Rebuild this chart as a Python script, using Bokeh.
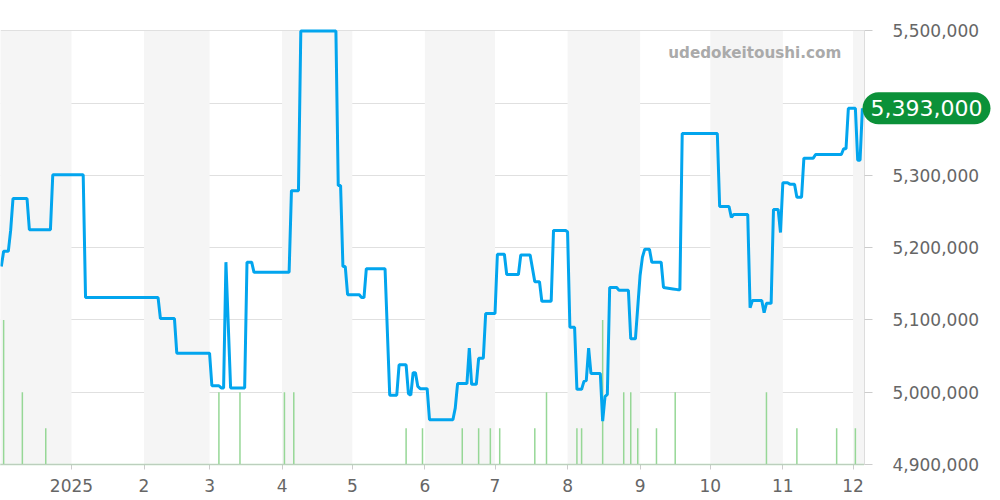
from bokeh.embed import file_html
from bokeh.layouts import column
from bokeh.models import FixedTicker, Label, LinearScale, NumeralTickFormatter, Range1d
from bokeh.plotting import figure
from bokeh.resources import INLINE

# days counted from 2025-01-01
price_days = [-30, -29, -27, -26, -25, -19, -18, -9, -8, 5, 6, 37, 38, 44, 45, 59, 60, 63, 64, 65,
              66, 68, 74, 75, 77, 78, 93, 94, 97, 98, 113, 114, 115, 116, 117, 118, 123, 124, 125, 126,
              134, 136, 139, 140, 143, 144, 145, 146, 147, 148, 149, 152, 153, 163, 164, 165, 169, 170, 171, 173,
              174, 176, 177, 181, 182, 185, 186, 191, 192, 196, 198, 200, 201, 205, 206, 211, 212, 213, 215, 216,
              218, 219, 220, 221, 222, 226, 227, 228, 229, 230, 233, 234, 238, 239, 241, 243, 244, 245, 247, 248,
              252, 253, 255, 257, 259, 260, 261, 276, 277, 281, 282, 283, 289, 290, 291, 295, 296, 297, 299, 300,
              302, 303, 304, 306, 307, 309, 310, 312, 313, 317, 318, 329, 330, 331, 332, 335, 336, 337, 338]
price_values = [5174000, 5195000, 5195000, 5224000, 5268000, 5268000, 5225000, 5225000, 5301000, 5301000,
                5131000, 5131000, 5102000, 5102000, 5054000, 5054000, 5009000, 5009000, 5006000, 5006000,
                5180000, 5006000, 5006000, 5180000, 5180000, 5166000, 5166000, 5279000, 5279000, 5500000,
                5500000, 5286000, 5286000, 5174000, 5174000, 5135000, 5135000, 5131000, 5131000, 5171000,
                5171000, 4996000, 4996000, 5038000, 5038000, 4998000, 4996000, 5027000, 5027000, 5008000,
                5005000, 5005000, 4962000, 4962000, 4978000, 5012000, 5012000, 5061000, 5011000, 5011000,
                5047000, 5047000, 5109000, 5109000, 5191000, 5191000, 5163000, 5163000, 5190000, 5190000,
                5153000, 5153000, 5126000, 5126000, 5224000, 5224000, 5222000, 5090000, 5090000, 5004000,
                5004000, 5015000, 5016000, 5061000, 5026000, 5026000, 4960000, 4994000, 4997000, 5145000,
                5145000, 5141000, 5141000, 5074000, 5074000, 5162000, 5187000, 5198000, 5198000, 5180000,
                5180000, 5145000, 5144000, 5143000, 5142000, 5142000, 5358000, 5358000, 5257000, 5257000,
                5242000, 5246000, 5246000, 5117000, 5127000, 5127000, 5110000, 5123000, 5123000, 5253000,
                5253000, 5221000, 5290000, 5290000, 5288000, 5288000, 5270000, 5270000, 5324000, 5324000,
                5329000, 5329000, 5337000, 5337000, 5393000, 5393000, 5321000, 5321000, 5393000]

volume_days = [-29, -21, -11, 63, 72, 91, 95, 143, 150, 167, 174, 179, 183, 198,
               203, 216, 218, 227, 236, 239, 242, 250, 258, 297, 310, 327, 335]
volume_values = [4, 2, 1, 2, 2, 2, 2, 1, 1, 1, 1, 1, 1, 1,
                 2, 1, 1, 4, 2, 2, 1, 1, 2, 2, 1, 1, 1]

month_starts = [0, 31, 59, 90, 120, 151, 181, 212, 243, 273, 304, 334]
month_labels = ["2025", "2", "3", "4", "5", "6", "7", "8", "9", "10", "11", "12"]
price_ticks = [4900000, 5000000, 5100000, 5200000, 5300000, 5400000, 5500000]
band_left = [-31, 31, 90, 151, 212, 273, 334]
band_right = [0, 59, 120, 181, 243, 304, 365]

x_start, x_end = -30.34, 338.9
# a little headroom over 5,500,000 so the line at the top is not cut
y_range = Range1d(4900000, 5503400)

p = figure(width=1000, height=500, output_backend="svg", toolbar_location=None,
           x_range=Range1d(x_start, x_end), y_range=y_range,
           x_axis_location="below", y_axis_location="right",
           min_border_left=0, min_border_top=28, min_border_right=136, min_border_bottom=36,
           outline_line_color=None, frame_align=False)

p.extra_y_ranges = {"volume": Range1d(0, 12.068)}
p.extra_y_scales = {"volume": LinearScale()}

p.quad(left=band_left, right=band_right, bottom=4900000, top=5500000,
       fill_color="#f5f5f5", line_color=None)

p.xgrid.visible = False
p.ygrid.ticker = FixedTicker(ticks=price_ticks)
p.ygrid.grid_line_color = "#e0e0e0"
p.ygrid.level = "underlay"

# dotted row along the floor, the days without sales
p.line([x_start, x_end], [0, 0], y_range_name="volume", line_color="#a5d6a7",
       line_width=2, line_alpha=0.8, line_dash="1 1", level="overlay")
p.segment(x0=volume_days, x1=volume_days, y0=0, y1=volume_values, y_range_name="volume",
          line_color="#96d796", line_width=1.5)

p.line(price_days, price_values, line_color="#02a5ee", line_width=3)

xaxis = p.xaxis[0]
xaxis.ticker = FixedTicker(ticks=month_starts)
xaxis.major_label_overrides = dict(zip(month_starts, month_labels))
xaxis.minor_tick_line_color = None
xaxis.major_tick_in = 0
xaxis.major_tick_out = 5
xaxis.major_tick_line_color = "#cccccc"
xaxis.axis_line_color = "#cccccc"
xaxis.major_label_standoff = 9
xaxis.major_label_text_font = "DejaVu Sans"
xaxis.major_label_text_font_size = "17px"
xaxis.major_label_text_color = "#666666"

yaxis = p.yaxis[0]
yaxis.bounds = (4900000, 5500000)
yaxis.ticker = FixedTicker(ticks=price_ticks)
yaxis.formatter = NumeralTickFormatter(format="0,0")
yaxis.minor_tick_line_color = None
yaxis.major_tick_in = 0
yaxis.major_tick_out = 8
yaxis.major_tick_line_color = "#cccccc"
yaxis.axis_line_color = "#dddddd"
yaxis.major_label_standoff = 20
yaxis.major_label_text_font = "DejaVu Sans"
yaxis.major_label_text_font_size = "17px"
yaxis.major_label_text_color = "#666666"
yaxis.major_label_text_align = "left"

p.add_layout(Label(x=329, y=5469000, text="udedokeitoushi.com",
                   text_font="DejaVu Sans", text_font_style="bold", text_font_size="15.2px",
                   text_color="#aaaaaa", text_align="right", text_baseline="middle"))

# labels get clipped to the frame, so the badge sits on a see-through figure on top
badge = figure(width=1000, height=500, output_backend="svg", toolbar_location=None,
               x_range=Range1d(0, 1000), y_range=y_range,
               x_axis_location=None, y_axis_location=None,
               min_border_left=0, min_border_top=28, min_border_right=0, min_border_bottom=36,
               outline_line_color=None, background_fill_alpha=0, border_fill_alpha=0,
               margin=(-500, 0, 0, 0), frame_align=False)
badge.grid.visible = False
badge.add_layout(Label(x=926, y=price_values[-1], text=f"{price_values[-1]:,}",
                       text_font="DejaVu Sans", text_font_size="22px", text_color="#ffffff",
                       text_align="center", text_baseline="middle",
                       background_fill_color="#0b9139", border_radius=16, padding=(8, 8)))

open("out.html", "w").write(file_html(column(p, badge, spacing=0), INLINE))
